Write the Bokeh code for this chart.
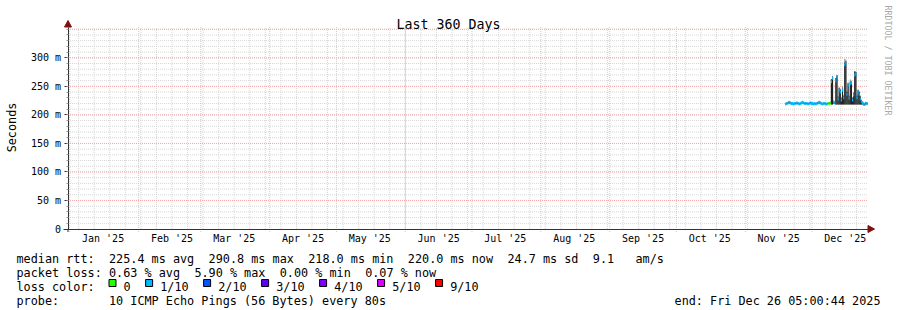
import math
import pandas as pd
from bokeh.plotting import figure
from bokeh.models import (Range1d, FixedTicker, Label, BoxAnnotation,
                          PolyAnnotation, ColumnDataSource)
from bokeh.embed import file_html
from bokeh.resources import INLINE

# ---------------- data ----------------
TITLE = "Last 360 Days"
END_TIME = "2025-12-26 05:00:44"
SPAN_DAYS = 360
SAMPLE_START = "2025-11-19 00:00:00"
SAMPLE_HOURS = 12

median_ms = [219, 220, 221, 222, 221, 220, 220, 219, 220, 220,
             221, 220, 219, 220, 221, 222, 221, 220, 220, 220,
             219, 220, 221, 220, 220, 219, 220, 219, 220, 221,
             222, 221, 220, 219, 220, 220, 219, 219, 220, 220,
             221, 258, 264, 222, 221, 260, 266, 228, 244, 240,
             226, 243, 230, 288, 291, 236, 252, 229, 255, 256,
             226, 235, 270, 272, 230, 240, 236, 228, 223, 221,
             219, 218, 220, 220]
smoke_lo_ms = [218, 219, 220, 220, 220, 219, 219, 218, 219, 219,
               220, 219, 218, 219, 220, 220, 220, 219, 219, 219,
               218, 219, 220, 219, 219, 218, 219, 218, 219, 220,
               220, 220, 219, 218, 219, 219, 218, 218, 219, 219,
               219, 218, 218, 219, 219, 218, 218, 218, 218, 218,
               218, 218, 218, 218, 218, 218, 218, 218, 218, 218,
               218, 218, 218, 218, 218, 218, 218, 218, 218, 218,
               217, 217, 218, 218]
smoke_dark_ms = [220, 221, 222, 223, 222, 221, 221, 220, 221, 221,
                 222, 221, 220, 221, 222, 223, 222, 221, 221, 221,
                 220, 221, 222, 221, 221, 220, 221, 220, 221, 222,
                 223, 222, 221, 220, 221, 221, 220, 220, 221, 221,
                 222, 262, 267, 224, 223, 264, 269, 231, 247, 244,
                 229, 246, 233, 292, 294, 240, 255, 232, 258, 258,
                 229, 238, 276, 275, 233, 243, 240, 232, 226, 223,
                 221, 220, 222, 221]
smoke_max_ms = [221, 222, 223, 224, 223, 222, 222, 221, 222, 222,
                223, 222, 221, 222, 223, 224, 223, 222, 222, 222,
                221, 222, 223, 222, 222, 221, 222, 221, 222, 223,
                224, 223, 222, 221, 222, 222, 221, 221, 222, 222,
                223, 263, 268, 225, 224, 265, 270, 233, 249, 246,
                231, 250, 235, 298, 297, 242, 257, 234, 262, 260,
                231, 240, 277, 276, 235, 245, 242, 234, 227, 224,
                222, 221, 223, 222]
loss_of_10 = [1] * 38 + [0, 0, 0] + [1] * 33

loss_steps = [0, 1, 2, 3, 4, 5, 9]
loss_labels = ["0", "1/10", "2/10", "3/10", "4/10", "5/10", "9/10"]
loss_colors = ["#26ff00", "#00b8ff", "#0059ff", "#5e00ff", "#7e00ff", "#dd00ff", "#ff0000"]

y_major = [0, 50, 100, 150, 200, 250, 300]
y_labels = ["0", "50 m", "100 m", "150 m", "200 m", "250 m", "300 m"]
y_top = 354
month_labels = ["Jan '25", "Feb '25", "Mar '25", "Apr '25", "May '25", "Jun '25",
                "Jul '25", "Aug '25", "Sep '25", "Oct '25", "Nov '25", "Dec '25"]

rtt_head = "median rtt:"
rtt_stats = ["225.4 ms avg", "290.8 ms max", "218.0 ms min", "220.0 ms now",
             "24.7 ms sd", "9.1", "am/s"]
loss_head = "packet loss:"
loss_stats = ["0.63 % avg", "5.90 % max", "0.00 % min", "0.07 % now"]
color_head = "loss color:"
probe_head = "probe:"
probe_text = "10 ICMP Echo Pings (56 Bytes) every 80s"
end_text = "end: Fri Dec 26 05:00:44 2025"
watermark = "RRDTOOL / TOBI OETIKER"
y_title = "Seconds"

# ---------------- layout (canvas pixels) ----------------
W, H = 897, 310
PL, PR, PT, PB = 67.5, 867.5, 26.5, 228.5   # plot area edges (pixel centres)


def ms(ts):
    return pd.Timestamp(ts).value // 10**6


end_ms = ms(END_TIME)
start_ms = end_ms - SPAN_DAYS * 86400 * 1000
kx = (end_ms - start_ms) / (PR - PL)       # ms per pixel
ky = y_top / (PB - PT)                      # value per pixel

step_ms = SAMPLE_HOURS * 3600 * 1000
t0 = ms(SAMPLE_START)
n = len(median_ms)
left = [t0 + i * step_ms for i in range(n)]
right = [l + step_ms for l in left]

half = 1.5 * ky   # median band half thickness (1.5 px)
cmap = dict(zip(loss_steps, loss_colors))
src = ColumnDataSource(dict(
    left=left, right=right,
    lo=smoke_lo_ms, dark=smoke_dark_ms, mx=smoke_max_ms,
    mlo=[m - half for m in median_ms], mhi=[m + half for m in median_ms],
    col=[cmap[l] for l in loss_of_10],
))

FONT = "DejaVu Sans Mono"
p = figure(width=W, height=H, output_backend="svg", toolbar_location=None,
           x_range=Range1d(start_ms - PL * kx, end_ms + (W - PR) * kx),
           y_range=Range1d(-(H - PB) * ky, y_top + PT * ky),
           min_border=0, min_border_left=0, min_border_right=0,
           min_border_top=0, min_border_bottom=0)
p.background_fill_color = "white"
p.border_fill_color = "white"
p.outline_line_color = None
p.xgrid.visible = False
p.ygrid.visible = False

# ---------------- grid (drawn as segments in data space) ----------------
week_ticks = [ms(d) for d in pd.date_range("2025-01-05", "2025-12-21", freq="7D")]
month_ticks = [ms(d) for d in pd.date_range("2025-01-01", "2025-12-01", freq="MS")]
mid_ticks = [ms(pd.Timestamp(d) + pd.Timedelta(days=15))
             for d in pd.date_range("2025-01-01", "2025-12-01", freq="MS")]
y_minor = list(range(10, y_top, 10))
y_major_grid = list(range(50, y_top, 50))
minor_c = "#d6d6d6"
major_c = "#f6a8a8"

p.segment(x0=week_ticks, x1=week_ticks, y0=[0] * len(week_ticks),
          y1=[y_top] * len(week_ticks), line_color=minor_c, line_dash="1 1", line_width=1)
p.segment(x0=[start_ms] * len(y_minor), x1=[end_ms] * len(y_minor), y0=y_minor, y1=y_minor,
          line_color=minor_c, line_dash="1 1", line_width=1)
p.segment(x0=month_ticks, x1=month_ticks, y0=[-3 * ky] * len(month_ticks),
          y1=[y_top] * len(month_ticks), line_color=major_c, line_dash="1 1",
          line_width=1, line_alpha=0.8)
p.segment(x0=[start_ms] * len(y_major_grid), x1=[end_ms] * len(y_major_grid),
          y0=y_major_grid, y1=y_major_grid, line_color=major_c, line_dash="1 1", line_width=1)

# ---------------- smoke + median ----------------
p.quad(left="left", right="right", bottom="lo", top="mx", source=src,
       fill_color="#9a9a9a", line_color=None)
p.quad(left="left", right="right", bottom="lo", top="dark", source=src,
       fill_color="#202020", line_color=None)
p.quad(left="left", right="right", bottom="mlo", top="mhi", source=src,
       fill_color="col", line_color=None)

# ---------------- axes ----------------
ax_c = "#333333"
yax = p.yaxis[0]
yax.fixed_location = start_ms
yax.bounds = (0, y_top)
yax.ticker = FixedTicker(ticks=y_major, minor_ticks=y_minor)
yax.major_label_overrides = dict(zip(y_major, y_labels))
yax.major_label_text_font = FONT
yax.major_label_text_font_size = "10px"
yax.major_label_text_color = "black"
yax.major_tick_out = 4
yax.major_tick_in = 0
yax.minor_tick_out = 2
yax.minor_tick_in = 0
yax.major_label_standoff = 3
yax.axis_line_color = ax_c
yax.major_tick_line_color = ax_c
yax.minor_tick_line_color = "#999999"

xax = p.xaxis[0]
xax.fixed_location = 0
xax.bounds = (start_ms - 5 * kx, end_ms)
xax.ticker = FixedTicker(ticks=mid_ticks, minor_ticks=[])
xax.major_label_overrides = dict(zip(mid_ticks, month_labels))
xax.major_label_text_font = FONT
xax.major_label_text_font_size = "10px"
xax.major_label_text_color = "black"
xax.major_tick_out = 0
xax.major_tick_in = 0
xax.minor_tick_out = 0
xax.minor_tick_in = 0
xax.major_label_standoff = 4
xax.axis_line_color = ax_c

# ---------------- arrows ----------------
arrow_c = "#7f1010"
p.add_layout(PolyAnnotation(xs=[64, 71, 67.5], ys=[26.5, 26.5, 20], xs_units="canvas",
                            ys_units="canvas", fill_color=arrow_c, fill_alpha=1,
                            line_color=arrow_c, line_alpha=1))
p.add_layout(PolyAnnotation(xs=[867.5, 867.5, 874], ys=[225, 232, 228.5], xs_units="canvas",
                            ys_units="canvas", fill_color=arrow_c, fill_alpha=1,
                            line_color=arrow_c, line_alpha=1))
p.add_layout(BoxAnnotation(left=67, right=68, top=228.5, bottom=231.5,
                           left_units="canvas", right_units="canvas",
                           top_units="canvas", bottom_units="canvas",
                           fill_color=ax_c, fill_alpha=1, line_color=None))


def label(x, y, text, size="11.8px", align="left", baseline="alphabetic",
          angle=0.0, color="black"):
    p.add_layout(Label(x=x, y=y, x_units="canvas", y_units="canvas", text=text,
                       text_font=FONT, text_font_size=size, text_align=align,
                       text_baseline=baseline, angle=angle, text_color=color))


label(448, 24, TITLE, size="13.3px", align="center")
label(11, 127, y_title, align="center", baseline="middle", angle=math.pi / 2)
label(887, 60, watermark, size="8.3px", align="center", baseline="middle",
      angle=-math.pi / 2, color="#a8a8a8")

CH = 7.115
X0 = 16
label(X0, 258, rtt_head)
for col, txt in zip([13, 27, 41, 55, 69, 81, 87], rtt_stats):
    label(X0 + col * CH, 258, txt)
label(X0, 272, loss_head)
for col, txt in zip([13, 25, 37, 49], loss_stats):
    label(X0 + col * CH, 272, txt)
label(X0, 286, color_head)
col = 13.0
for txt, c in zip(loss_labels, loss_colors):
    bx = X0 + col * CH
    p.add_layout(BoxAnnotation(left=bx, right=bx + 7, top=279, bottom=286,
                               left_units="canvas", right_units="canvas",
                               top_units="canvas", bottom_units="canvas",
                               fill_color=c, fill_alpha=1, line_color="black",
                               line_width=1, line_alpha=1))
    label(X0 + (col + 2.05) * CH, 286, txt)
    col += 2.05 + len(txt) + 2.1
label(X0, 300, probe_head)
label(X0 + 13 * CH, 300, probe_text)
label(880, 300, end_text, align="right")

open("out.html", "w").write(file_html(p, INLINE))
